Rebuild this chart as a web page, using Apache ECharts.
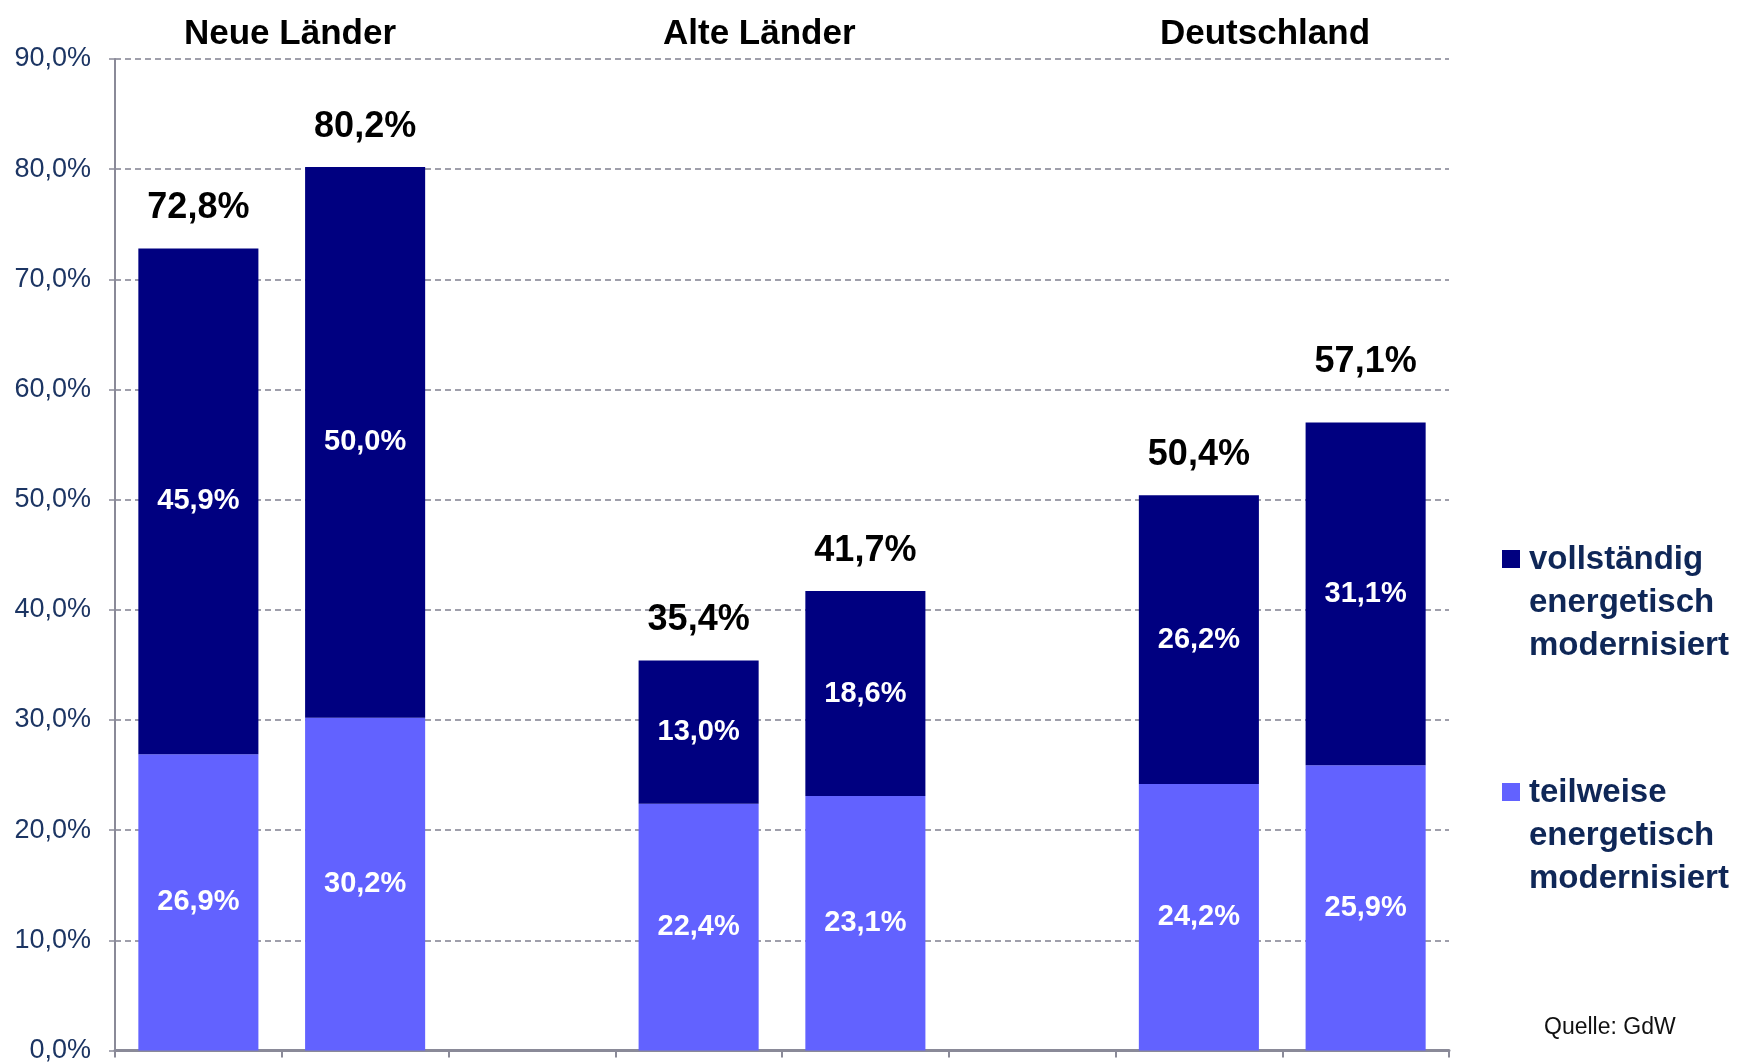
<!DOCTYPE html>
<html>
<head>
<meta charset="utf-8">
<script src="https://cdn.jsdelivr.net/npm/echarts@6/dist/echarts.min.js"></script>
<style>
  html, body { margin: 0; padding: 0; background: #fff; }
  #main { width: 1737px; height: 1064px; }
</style>
</head>
<body>
<div id="main"></div>
<script>
// Kategorien: je zwei Balken pro Gruppe, Lücke dazwischen
const categories = ['NL-1', 'NL-2', 'gap-1', 'AL-1', 'AL-2', 'gap-2', 'D-1', 'D-2']
const groupTitles = ['Neue Länder', 'Alte Länder', 'Deutschland']
const seriesNames = ['vollständig\nenergetisch\nmodernisiert', 'teilweise\nenergetisch\nmodernisiert']
const teilweise = [26.9, 30.2, '-', 22.4, 23.1, '-', 24.2, 25.9]
const vollstaendig = [45.9, 50.0, '-', 13.0, 18.6, '-', 26.2, 31.1]
const gesamt = [72.8, 80.2, '-', 35.4, 41.7, '-', 50.4, 57.1]
const yTicks = [0, 10, 20, 30, 40, 50, 60, 70, 80, 90]

const FONT = '"Liberation Sans", Arial, sans-serif'
const COLOR_VOLL = '#000080'
const COLOR_TEIL = '#6262ff'
const fmt = v => Number(v).toFixed(1).replace('.', ',') + '%'

const insideLabel = {
  show: true,
  position: 'inside',
  formatter: p => fmt(p.value),
  fontFamily: FONT,
  fontSize: 29,
  fontWeight: 'bold',
  color: '#ffffff'
}

// Legende als Grafik, damit das Quadrat an der ersten Zeile steht
function legendItem(name, color, top) {
  return {
    type: 'group',
    left: 1502,
    top: top,
    children: [
      { type: 'rect', shape: { x: 0, y: 12, width: 18, height: 18 }, style: { fill: color } },
      {
        type: 'text',
        x: 27,
        y: 0,
        style: {
          text: name,
          font: 'bold 33px ' + FONT,
          fill: '#0f2757',
          lineHeight: 43
        }
      }
    ]
  }
}

const myChart = echarts.init(document.getElementById('main'))
const option = {
  backgroundColor: '#ffffff',
  animation: false,
  grid: { left: 115, right: 288, top: 59, bottom: 13 },
  xAxis: {
    type: 'category',
    data: categories,
    axisLine: { lineStyle: { color: '#8a8a98', width: 3 } },
    axisTick: { show: true, interval: 0, length: 7, lineStyle: { color: '#8a8a98', width: 2 } },
    axisLabel: { show: false }
  },
  yAxis: {
    type: 'value',
    min: yTicks[0],
    max: yTicks[yTicks.length - 1],
    interval: 10,
    axisLine: { show: true, lineStyle: { color: '#8a8a98', width: 2 } },
    axisTick: { show: true, length: 8, lineStyle: { color: '#8a8a98', width: 1.5, type: 'dashed' } },
    axisLabel: {
      formatter: fmt,
      fontFamily: FONT,
      fontSize: 27,
      color: '#1c3563',
      margin: 24
    },
    splitLine: { lineStyle: { color: '#808090', width: 1.5, type: [6, 4] } }
  },
  series: [
    {
      name: seriesNames[1],
      type: 'bar',
      stack: 'gesamt',
      barCategoryGap: '28%',
      data: teilweise,
      itemStyle: { color: COLOR_TEIL },
      label: insideLabel
    },
    {
      name: seriesNames[0],
      type: 'bar',
      stack: 'gesamt',
      data: vollstaendig,
      itemStyle: { color: COLOR_VOLL },
      label: insideLabel
    },
    {
      // Summenbeschriftung über den Balken
      name: 'Summe',
      type: 'scatter',
      data: gesamt.map((v, i) => (i === 7 ? { value: v, label: { distance: 41 } } : v)),
      symbolSize: 0,
      silent: true,
      itemStyle: { opacity: 1 },
      label: {
        show: true,
        position: 'top',
        distance: 22,
        formatter: p => fmt(p.value),
        fontFamily: FONT,
        fontSize: 36,
        fontWeight: 'bold',
        color: '#000000'
      }
    }
  ],
  graphic: [
    { type: 'text', left: 291 - 107, top: 17, style: { text: groupTitles[0], font: 'bold 35px ' + FONT, fill: '#000' } },
    { type: 'text', left: 758 - 95, top: 17, style: { text: groupTitles[1], font: 'bold 35px ' + FONT, fill: '#000' } },
    { type: 'text', left: 1263 - 103, top: 17, style: { text: groupTitles[2], font: 'bold 35px ' + FONT, fill: '#000' } },
    { type: 'text', left: 1544, top: 1016, style: { text: 'Quelle: GdW', font: '23px ' + FONT, fill: '#111' } },
    legendItem(seriesNames[0], COLOR_VOLL, 538),
    legendItem(seriesNames[1], COLOR_TEIL, 771)
  ]
}
myChart.setOption(option)
</script>
</body>
</html>
